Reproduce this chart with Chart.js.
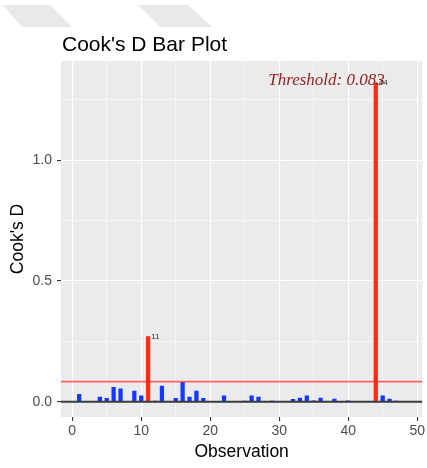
<!DOCTYPE html>
<html>
<head>
<meta charset="utf-8">
<script src="https://cdn.jsdelivr.net/npm/chart.js@4/dist/chart.umd.min.js"></script>
<style>
  html, body { margin: 0; padding: 0; background: #ffffff; }
  #wrap { width: 427px; height: 468px; }
  canvas { display: block; }
</style>
</head>
<body>
<div id="wrap"><canvas id="cooks" width="427" height="468"></canvas></div>
<script>
// Observation index and Cook's distance for each observation
const observations = [
  1, 2, 3, 4, 5, 6, 7, 8, 9, 10, 11, 12, 13, 14, 15, 16,
  17, 18, 19, 20, 21, 22, 23, 24, 25, 26, 27, 28, 29, 30, 31, 32,
  33, 34, 35, 36, 37, 38, 39, 40, 41, 42, 43, 44, 45, 46, 47, 48
];
const cooksD = [
  0.031, 0.002, 0.001, 0.019, 0.014, 0.060, 0.054, 0.001, 0.044, 0.025, 0.270, 0.003, 0.065, 0.001, 0.014, 0.080,
  0.019, 0.044, 0.014, 0.001, 0.001, 0.025, 0.001, 0.001, 0.003, 0.025, 0.019, 0.002, 0.003, 0.001, 0.001, 0.010,
  0.015, 0.025, 0.004, 0.015, 0.002, 0.011, 0.001, 0.004, 0.001, 0.001, 0.001, 1.320, 0.025, 0.011, 0.003, 0.001
];
const threshold = 0.083;
const thresholdText = 'Threshold: 0.083';
const xTickValues = [0, 10, 20, 30, 40, 50];
const yTickValues = [0, 0.5, 1.0];
const chartTitle = "Cook's D Bar Plot";
const xTitle = 'Observation';
const yTitle = "Cook's D";

const COL_NORMAL = '#1438ff';
const COL_OUTLIER = '#ff2a14';
const PANEL_BG = '#ebebeb';
const SANS = '"Liberation Sans", Arial, Helvetica, sans-serif';

// major ticks plus the ggplot-style minor ticks half-way between them
function withMinor(values, lo, hi) {
  const step = values[1] - values[0];
  const all = [];
  for (let v = values[0] - step / 2; v <= values[values.length - 1] + step / 2 + 1e-9; v += step / 2) {
    const r = Math.round(v * 1000) / 1000;
    if (r >= lo && r <= hi) all.push(r);
  }
  return all;
}
const isMajor = (list, v) => list.some(m => Math.abs(m - v) < 1e-9);

const X_MIN = -1.63, X_MAX = 50.75, Y_MIN = -0.063, Y_MAX = 1.41;

const panelPlugin = {
  id: 'panel',
  beforeDraw(chart) {
    const { ctx, chartArea: a } = chart;
    ctx.save();
    ctx.fillStyle = '#ffffff';
    ctx.fillRect(0, 0, chart.width, chart.height);
    // faint header shapes
    ctx.fillStyle = '#e9e9e9';
    [[3, 50, 72, 22], [138, 188, 212, 160]].forEach(([tl, tr, br, bl]) => {
      ctx.beginPath();
      ctx.moveTo(tl, 5); ctx.lineTo(tr, 5); ctx.lineTo(br, 27); ctx.lineTo(bl, 27);
      ctx.closePath(); ctx.fill();
    });
    ctx.fillStyle = PANEL_BG;
    ctx.fillRect(a.left, a.top, a.right - a.left, a.bottom - a.top);
    // title
    ctx.fillStyle = '#000000';
    ctx.font = '21px ' + SANS;
    ctx.textAlign = 'left';
    ctx.textBaseline = 'alphabetic';
    ctx.fillText(chartTitle, a.left + 1, 51);
    ctx.restore();
  },
  afterDatasetsDraw(chart) {
    const { ctx, chartArea: a, scales: { x, y } } = chart;
    ctx.save();
    ctx.beginPath();
    ctx.rect(a.left, a.top, a.right - a.left, a.bottom - a.top);
    ctx.clip();
    // zero reference line
    const y0 = y.getPixelForValue(0);
    ctx.strokeStyle = '#3a3a3a';
    ctx.lineWidth = 2;
    ctx.beginPath(); ctx.moveTo(a.left, y0); ctx.lineTo(a.right, y0); ctx.stroke();
    // threshold line
    const yt = y.getPixelForValue(threshold);
    ctx.strokeStyle = 'rgba(255, 40, 40, 0.7)';
    ctx.lineWidth = 1.8;
    ctx.beginPath(); ctx.moveTo(a.left, yt); ctx.lineTo(a.right, yt); ctx.stroke();
    // threshold annotation
    ctx.fillStyle = '#952424';
    ctx.font = 'italic 17px "Liberation Serif", "Times New Roman", serif';
    ctx.textAlign = 'center';
    ctx.textBaseline = 'middle';
    ctx.fillText(thresholdText, x.getPixelForValue(36.85), y.getPixelForValue(1.33));
    // labels for observations above the threshold
    ctx.fillStyle = '#333333';
    ctx.font = '8px ' + SANS;
    ctx.textAlign = 'left';
    observations.forEach((o, i) => {
      if (cooksD[i] > threshold) {
        ctx.fillText(String(o), x.getPixelForValue(o) + 3, y.getPixelForValue(cooksD[i]));
      }
    });
    ctx.restore();
  }
};

const xAll = withMinor(xTickValues, X_MIN, X_MAX);
const yAll = withMinor(yTickValues, Y_MIN, Y_MAX);

new Chart(document.getElementById('cooks'), {
  type: 'bar',
  data: {
    datasets: [{
      data: observations.map((o, i) => ({ x: o, y: cooksD[i] })),
      backgroundColor: cooksD.map(v => v > threshold ? COL_OUTLIER : COL_NORMAL),
      borderWidth: 0,
      barThickness: 3.6
    }]
  },
  options: {
    responsive: false,
    animation: false,
    devicePixelRatio: 1,
    layout: { padding: { top: 61, right: 3.5, left: 0, bottom: 0 } },
    plugins: { legend: { display: false }, tooltip: { enabled: false }, title: { display: false } },
    scales: {
      x: {
        type: 'linear',
        min: X_MIN, max: X_MAX,
        offset: false,
        border: { display: false },
        afterBuildTicks: s => { s.ticks = xAll.map(v => ({ value: v })); },
        afterFit: s => { s.height = 51; },
        grid: {
          offset: false,
          color: '#ffffff',
          lineWidth: c => isMajor(xTickValues, c.tick.value) ? 1.1 : 0.55,
          drawTicks: true,
          tickLength: 4,
          tickWidth: 1.1,
          tickColor: c => isMajor(xTickValues, c.tick.value) ? '#333333' : 'rgba(0,0,0,0)'
        },
        ticks: {
          autoSkip: false,
          maxRotation: 0,
          padding: 2,
          color: '#4d4d4d',
          font: { family: SANS, size: 14 },
          callback: v => isMajor(xTickValues, v) ? String(Math.round(v)) : ''
        },
        title: {
          display: true, text: xTitle, color: '#000000',
          font: { family: SANS, size: 17.5 },
          padding: { top: 0, bottom: 5 }
        }
      },
      y: {
        type: 'linear',
        min: Y_MIN, max: Y_MAX,
        border: { display: false },
        afterBuildTicks: s => { s.ticks = yAll.map(v => ({ value: v })); },
        afterFit: s => { s.width = 61; },
        grid: {
          color: '#ffffff',
          lineWidth: c => isMajor(yTickValues, c.tick.value) ? 1.1 : 0.55,
          drawTicks: true,
          tickLength: 4,
          tickWidth: 1.1,
          tickColor: c => isMajor(yTickValues, c.tick.value) ? '#333333' : 'rgba(0,0,0,0)'
        },
        ticks: {
          autoSkip: false,
          padding: 5,
          color: '#4d4d4d',
          font: { family: SANS, size: 14 },
          callback: v => isMajor(yTickValues, v) ? v.toFixed(1) : ''
        },
        title: {
          display: true, text: yTitle, color: '#000000',
          font: { family: SANS, size: 17.5 },
          padding: { top: 8, bottom: 0 }
        }
      }
    }
  },
  plugins: [panelPlugin]
});
</script>
</body>
</html>
